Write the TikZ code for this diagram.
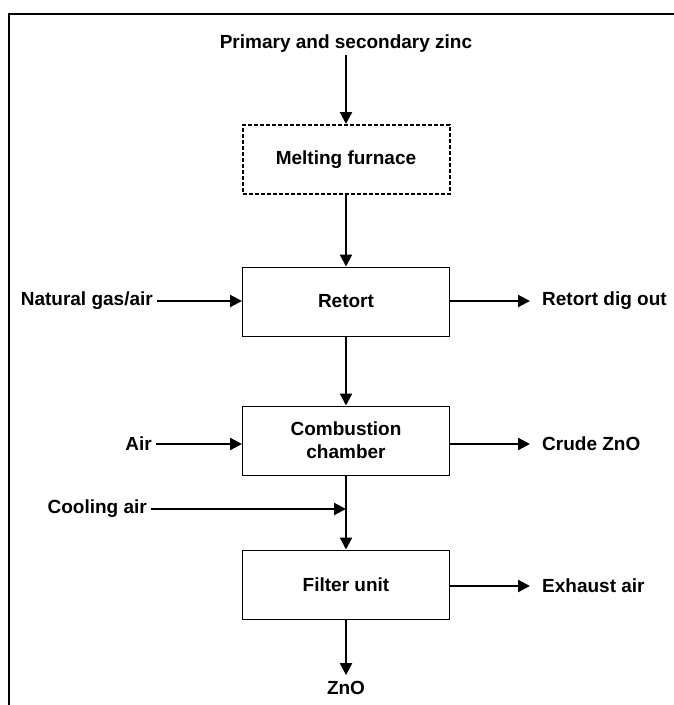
\documentclass[tikz,border=0pt]{standalone}
\usepackage{fontspec}
\setmainfont{Liberation Sans}
\usetikzlibrary{arrows.meta,positioning}

\begin{document}
\begin{tikzpicture}[x=1pt,y=-1pt,
 every node/.style={font=\fontsize{19}{23}\selectfont\bfseries},
 unit/.style={draw,line width=1pt,minimum width=207pt,minimum height=69pt,align=center},
 furnace/.style={unit,line width=2pt,dash pattern=on 4pt off 2pt},
 lbl/.style={inner sep=2pt},
 flow/.style={line width=2.2pt,-{Triangle[length=12pt,width=12pt]}}]
\useasboundingbox (0,0) rectangle (674,705);
% frame
\draw[line width=2.5pt] (9,705)--(9,14)--(674,14);
% units
\node[furnace] (melt) at (346,159.5) {Melting furnace};
\node[unit] (retort) at (346,301.5) {Retort};
\node[unit] (comb) at (346,440.5) {Combustion\\chamber};
\node[unit] (filter) at (346,584.5) {Filter unit};
% streams
\node[lbl] (zinc) at (346,44) {Primary and secondary zinc};
\node[lbl,anchor=east] (gas) at (155,301) {Natural gas/air};
\node[lbl,anchor=west] (dig) at (540,301) {Retort dig out};
\node[lbl,anchor=east] (air) at (154,444) {Air};
\node[lbl,anchor=west] (crude) at (540,444) {Crude ZnO};
\node[lbl,anchor=east] (cool) at (149,509) {Cooling air};
\node[lbl,anchor=west] (exhaust) at (540,586) {Exhaust air};
\node[lbl] (zno) at (346,688) {ZnO};
\coordinate (join) at (comb.south |- cool.east);
% main line
\draw[flow] (zinc) -- (melt);
\draw[flow] (melt) -- (retort);
\draw[flow] (retort) -- (comb);
\draw[flow] (comb) -- (filter);
\draw[flow,shorten >=4pt] (filter) -- (zno);
% side streams
\draw[flow,shorten <=2pt] (gas.east) -- (retort.west |- gas.east);
\draw[flow,shorten <=2pt] (air.east) -- (comb.west |- air.east);
\draw[flow,shorten <=2pt] (cool.east) -- (join);
\draw[flow,shorten >=10pt] (retort.east |- dig.west) -- (dig.west);
\draw[flow,shorten >=10pt] (comb.east |- crude.west) -- (crude.west);
\draw[flow,shorten >=10pt] (filter.east |- exhaust.west) -- (exhaust.west);
\end{tikzpicture}
\end{document}
